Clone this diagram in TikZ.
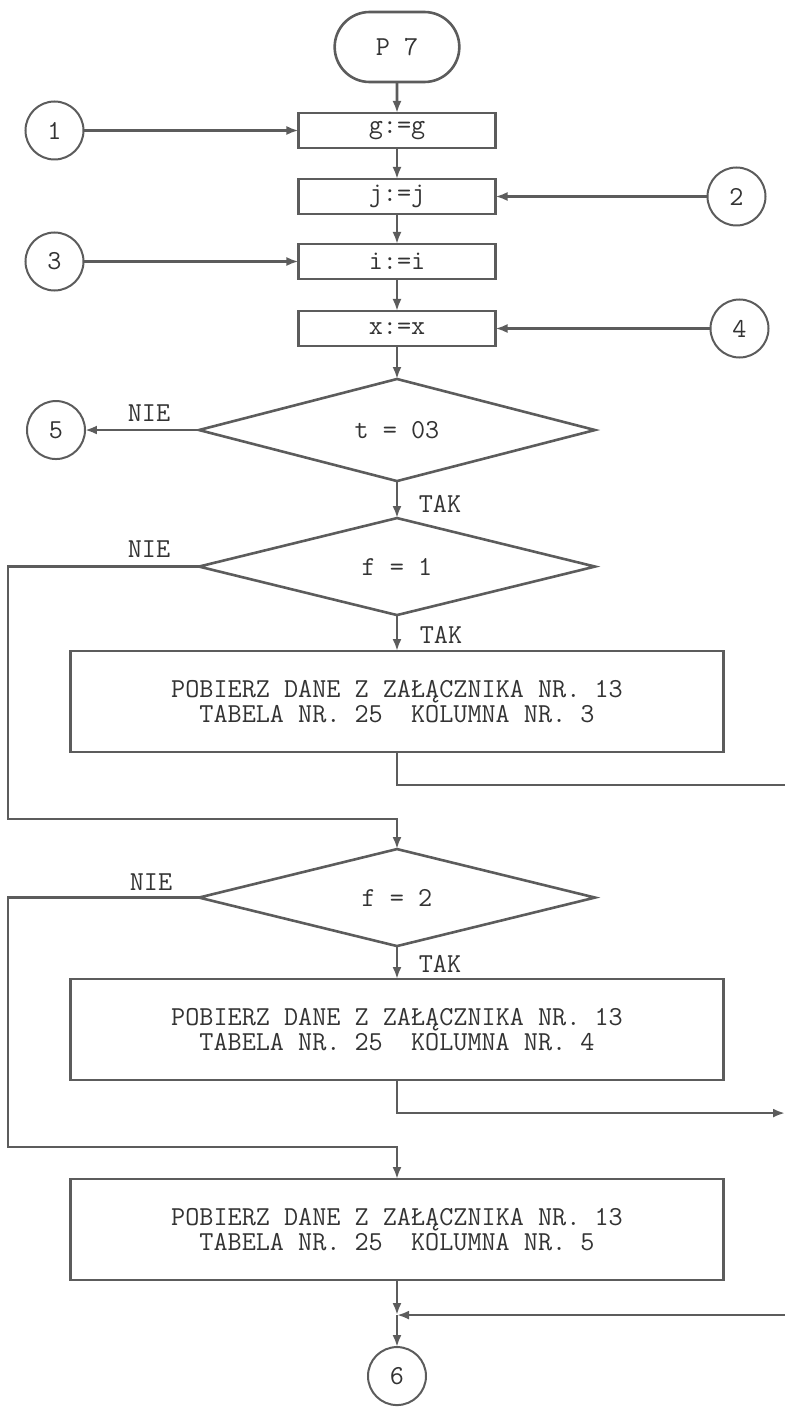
\documentclass[tikz,border=0pt]{standalone}
\usepackage{fontspec}
\usetikzlibrary{shapes.geometric,shapes.misc,arrows.meta,positioning,calc}
\definecolor{ink}{gray}{0.36}
\definecolor{type}{gray}{0.2}

\begin{document}
\begin{tikzpicture}[node distance=15.5pt,every node/.style={font=\ttfamily\fontsize{13.7}{12.5}\selectfont,text=type,outer sep=0pt},
  line/.style={draw=ink,line width=1.3pt},
  arr/.style={line,-{Latex[length=6pt,width=4.5pt]}},
  term/.style={draw=ink,line width=1.3pt,rounded rectangle,minimum width=69pt,minimum height=35pt},
  asg/.style={draw=ink,line width=1.3pt,minimum width=98.5pt,minimum height=17.5pt,inner sep=0pt},
  test/.style={draw=ink,line width=1.3pt,diamond,minimum width=198pt,minimum height=48.5pt,inner sep=0pt},
  fetch/.style={draw=ink,line width=1.3pt,minimum width=326.5pt,minimum height=50.5pt,align=center},
  conn/.style={draw=ink,line width=1pt,circle,minimum size=29pt,inner sep=0pt}]
\useasboundingbox (-198.5pt,23.5pt) rectangle (194pt,-680pt);
% main column
\node[term] (p7) at (0,0) {P 7};
\node[asg,below=of p7] (g) {g:=g};
\node[asg,below=of g] (j) {j:=j};
\node[asg,below=15pt of j] (i) {i:=i};
\node[asg,below=16pt of i] (x) {x:=x};
\node[test,below=16.5pt of x] (t3) {t = 03};
\node[test,below=18.5pt of t3] (f1) {f = 1};
\node[fetch,below=18pt of f1] (k3) {POBIERZ DANE Z ZAŁĄCZNIKA NR. 13\\TABELA NR. 25~~KOLUMNA NR. 3};
\node[test,below=48.5pt of k3] (f2) {f = 2};
\node[fetch,below=16.5pt of f2] (k4) {POBIERZ DANE Z ZAŁĄCZNIKA NR. 13\\TABELA NR. 25~~KOLUMNA NR. 4};
\node[fetch,below=49.5pt of k4] (k5) {POBIERZ DANE Z ZAŁĄCZNIKA NR. 13\\TABELA NR. 25~~KOLUMNA NR. 5};
\coordinate[below=17.5pt of k5] (join);
\node[conn,below=16pt of join] (c6) {6};
% connectors at the sides
\node[conn,left=107.5pt of g] (c1) {1};
\node[conn,right=106pt of j] (c2) {2};
\node[conn,left=107.5pt of i] (c3) {3};
\node[conn,right=107.5pt of x] (c4) {4};
\node[conn,left=57pt of t3] (c5) {5};
% labels
\node (nie1) at ($(t3.west)+(-25pt,8.5pt)$) {NIE};
\node (nie2) at ($(f1.west)+(-25pt,8.5pt)$) {NIE};
\node (nie3) at ($(f2.west)+(-24pt,7.5pt)$) {NIE};
\node (tak1) at ($(t3.south)+(21.5pt,-11.5pt)$) {TAK};
\node (tak2) at ($(f1.south)+(22pt,-10pt)$) {TAK};
\node (tak3) at ($(f2.south)+(21.5pt,-9pt)$) {TAK};
% helper points
\coordinate (lft) at (-194.5pt,0);
\coordinate (rgt) at (194pt,0);
\coordinate[above=15pt of f2.north] (f2in);
\coordinate[above=16pt of k5.north] (k5in);
\coordinate[below=16.5pt of k3.south] (k3out);
\coordinate[below=16.5pt of k4.south] (k4out);
% flow
\draw[arr] (p7)--(g);\draw[arr] (g)--(j);\draw[arr] (j)--(i);\draw[arr] (i)--(x);\draw[arr] (x)--(t3);
\draw[arr] (c1)--(g);\draw[arr] (c2)--(j);\draw[arr] (c3)--(i);\draw[arr] (c4)--(x);
\draw[arr] (t3.west)--(c5);
\draw[arr] (t3.south)--(f1.north);
\draw[arr] (f1.south)--(k3.north);
\draw[line] (k3.south)--(k3out)--(k3out -| rgt);
\draw[arr] (f1.west) -| (lft |- f2in)--(f2in)--(f2.north);
\draw[arr] (f2.south)--(k4.north);
\draw[arr] (k4.south)--(k4out)--(k4out -| rgt);
\draw[arr] (f2.west) -| (lft |- k5in)--(k5in)--(k5.north);
\draw[arr] (k5.south)--(join);
\draw[arr] (join -| rgt)--(join);
\draw[arr] (join)--(c6);
\end{tikzpicture}
\end{document}
